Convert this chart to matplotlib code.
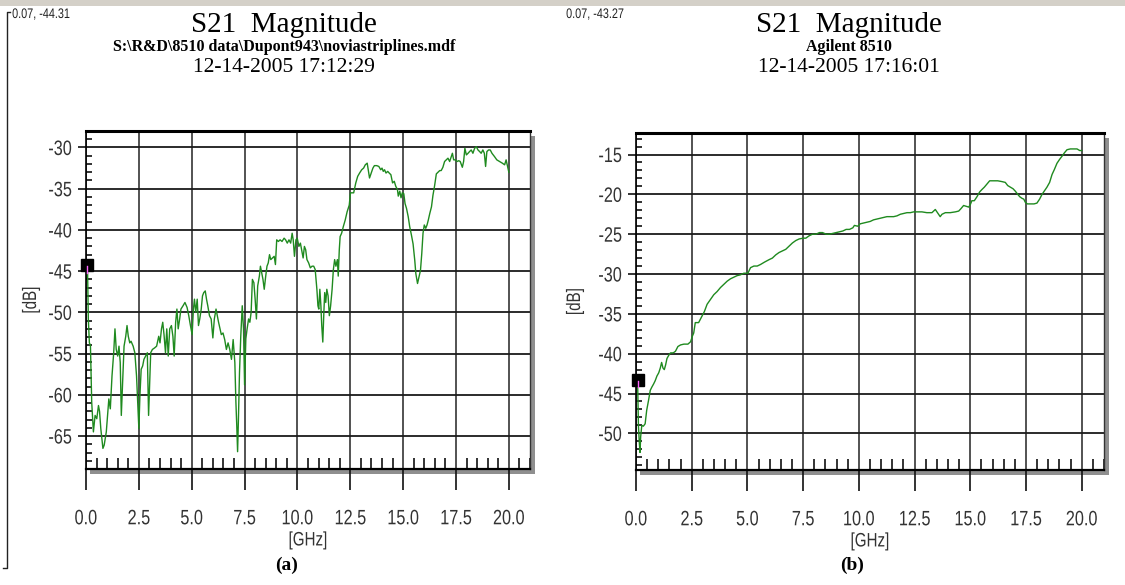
import matplotlib
matplotlib.use("Agg")
import matplotlib.pyplot as plt
from matplotlib.patches import Rectangle
from matplotlib.lines import Line2D
from matplotlib.ticker import MultipleLocator, FormatStrFormatter
from matplotlib.patheffects import AbstractPathEffect
from matplotlib.transforms import Affine2D
from matplotlib import font_manager as fm

# ---------------- data ----------------
freq_a = [0.07, 0.11, 0.16, 0.21, 0.27, 0.35, 0.43, 0.51, 0.59, 0.64, 0.70, 0.80, 0.86, 0.96,
          1.02, 1.08, 1.15, 1.23, 1.31, 1.37, 1.43, 1.50, 1.56, 1.62, 1.67, 1.74, 1.80, 1.88,
          1.94, 2.00, 2.07, 2.13, 2.23, 2.31, 2.39, 2.45, 2.50, 2.55, 2.61, 2.68, 2.74, 2.82,
          2.90, 2.96, 3.01, 3.06, 3.14, 3.25, 3.34, 3.44, 3.50, 3.57, 3.63, 3.69, 3.76, 3.82,
          3.89, 3.96, 4.04, 4.11, 4.17, 4.24, 4.30, 4.36, 4.43, 4.49, 4.59, 4.68, 4.78, 4.86,
          4.94, 5.02, 5.08, 5.13, 5.19, 5.26, 5.32, 5.38, 5.45, 5.51, 5.57, 5.64, 5.70, 5.76,
          5.84, 5.92, 6.00, 6.07, 6.15, 6.21, 6.27, 6.34, 6.40, 6.48, 6.56, 6.64, 6.72, 6.80,
          6.88, 6.96, 7.04, 7.09, 7.13, 7.17, 7.21, 7.26, 7.32, 7.39, 7.45, 7.50, 7.56, 7.62,
          7.69, 7.75, 7.81, 7.87, 7.94, 8.00, 8.06, 8.12, 8.20, 8.25, 8.31, 8.37, 8.43, 8.50,
          8.56, 8.62, 8.68, 8.74, 8.82, 8.90, 8.96, 9.02, 9.10, 9.18, 9.27, 9.37, 9.44, 9.52,
          9.60, 9.68, 9.75, 9.80, 9.86, 9.93, 9.99, 10.07, 10.14, 10.20, 10.27, 10.33, 10.39,
          10.45, 10.53, 10.61, 10.69, 10.77, 10.84, 10.92, 10.97, 11.01, 11.06, 11.11, 11.15,
          11.20, 11.25, 11.29, 11.34, 11.39, 11.45, 11.51, 11.57, 11.64, 11.70, 11.76, 11.82,
          11.89, 11.93, 11.98, 12.02, 12.09, 12.17, 12.26, 12.35, 12.45, 12.51, 12.57, 12.66,
          12.76, 12.85, 12.94, 13.04, 13.13, 13.21, 13.30, 13.35, 13.41, 13.49, 13.57, 13.64,
          13.75, 13.85, 13.94, 14.00, 14.06, 14.12, 14.19, 14.27, 14.34, 14.42, 14.50, 14.58,
          14.65, 14.73, 14.77, 14.84, 14.90, 14.96, 15.03, 15.09, 15.16, 15.24, 15.31, 15.39,
          15.47, 15.55, 15.60, 15.68, 15.75, 15.82, 15.88, 15.94, 16.00, 16.07, 16.13, 16.19,
          16.26, 16.34, 16.41, 16.49, 16.57, 16.65, 16.73, 16.80, 16.88, 16.96, 17.04, 17.12,
          17.20, 17.25, 17.33, 17.39, 17.47, 17.55, 17.63, 17.70, 17.80, 17.86, 17.92, 17.99,
          18.07, 18.14, 18.22, 18.30, 18.38, 18.46, 18.54, 18.62, 18.69, 18.77, 18.84, 18.90,
          18.96, 19.04, 19.12, 19.20, 19.32, 19.43, 19.56, 19.69, 19.80, 19.87, 19.94, 20.00]
s21_a = [-44.3, -50.8, -53.7, -54.0, -60.9, -64.5, -62.5, -62.9, -61.3, -62.0, -64.1, -66.5, -66.1, -64.5,
         -62.5, -60.5, -61.7, -57.7, -54.9, -52.0, -54.5, -55.3, -54.1, -56.1, -62.5, -58.1, -54.1, -52.9,
         -51.6, -52.9, -53.7, -53.5, -54.1, -54.9, -57.7, -61.3, -64.1, -60.1, -56.9, -56.5, -55.7, -55.3,
         -54.9, -62.5, -58.5, -54.9, -54.5, -54.3, -54.1, -52.9, -53.7, -52.0, -51.2, -52.7, -54.9, -52.0,
         -55.3, -52.0, -51.6, -52.9, -55.3, -51.2, -49.6, -52.0, -50.8, -49.6, -49.2, -48.8, -49.4, -50.4,
         -51.6, -52.7, -49.6, -48.4, -50.0, -48.4, -51.6, -50.8, -49.6, -48.0, -47.6, -47.4, -48.4, -49.2,
         -50.4, -50.8, -53.1, -50.8, -49.6, -50.4, -51.2, -52.0, -52.7, -52.5, -53.3, -54.5, -53.7, -54.5,
         -55.7, -53.3, -56.1, -60.9, -63.7, -66.9, -62.9, -57.3, -52.9, -49.2, -52.0, -58.8, -53.2, -52.0,
         -50.8, -51.2, -50.0, -46.0, -46.4, -48.4, -50.8, -46.8, -45.6, -44.4, -45.2, -46.0, -47.2, -45.6,
         -44.4, -44.0, -43.0, -43.6, -43.4, -43.2, -44.2, -41.2, -41.4, -41.2, -41.4, -41.0, -41.2, -41.6,
         -41.2, -41.6, -40.4, -41.2, -43.2, -41.2, -41.0, -42.0, -41.6, -42.4, -43.4, -42.0, -42.4,
         -43.6, -44.0, -44.6, -44.4, -44.4, -44.8, -47.2, -49.2, -49.6, -47.2, -49.2, -51.6,
         -53.6, -50.0, -47.6, -48.8, -47.2, -48.0, -50.4, -49.2, -47.2, -44.8, -43.6, -44.4,
         -43.6, -45.6, -42.4, -40.8, -40.4, -39.6, -38.8, -37.8, -37.0, -35.5, -35.5, -35.5,
         -34.3, -33.5, -33.1, -32.7, -32.5, -32.1, -31.9, -32.7, -33.7, -33.1, -32.5, -32.2,
         -32.2, -32.3, -32.7, -32.5, -32.9, -32.7, -33.1, -32.9, -33.1, -33.3, -34.3, -34.1,
         -34.7, -35.1, -35.9, -35.3, -36.1, -35.5, -35.6, -36.8, -37.4, -38.4, -39.6, -40.6,
         -41.7, -43.7, -45.3, -46.5, -45.7, -44.9, -42.9, -40.4, -39.4, -39.8, -39.4, -38.8,
         -38.0, -37.2, -35.8, -34.6, -33.2, -33.0, -32.8, -32.8, -32.4, -31.7, -31.5, -31.3,
         -31.7, -31.3, -30.7, -31.5, -31.5, -31.7, -31.6, -31.7, -32.4, -31.7, -30.1, -30.9,
         -30.7, -30.5, -30.3, -30.7, -30.1, -29.9, -30.3, -30.5, -30.7, -30.3, -30.7, -32.3,
         -30.5, -30.3, -30.3, -30.7, -31.1, -31.5, -31.7, -31.9, -32.1, -31.5, -32.3, -33.0]

freq_b = [0.07, 0.11, 0.15, 0.18, 0.21, 0.26, 0.33, 0.41, 0.48, 0.56, 0.64, 0.71, 0.79, 0.86,
          0.94, 1.02, 1.09, 1.15, 1.21, 1.27, 1.33, 1.39, 1.47, 1.55, 1.67, 1.77, 1.88, 2.00,
          2.15, 2.33, 2.45, 2.53, 2.59, 2.66, 2.81, 2.96, 3.07, 3.19, 3.34, 3.49, 3.64, 3.79,
          3.94, 4.09, 4.24, 4.39, 4.54, 4.69, 4.84, 5.02, 5.14, 5.29, 5.44, 5.59, 5.77, 5.97,
          6.12, 6.27, 6.42, 6.57, 6.72, 6.87, 7.02, 7.17, 7.32, 7.50, 7.62, 7.77, 7.92, 8.08,
          8.23, 8.37, 8.53, 8.68, 8.83, 8.98, 9.13, 9.28, 9.43, 9.58, 9.73, 9.80, 9.95, 10.06,
          10.21, 10.36, 10.51, 10.66, 10.81, 10.96, 11.11, 11.26, 11.41, 11.56, 11.71, 11.86,
          12.01, 12.16, 12.31, 12.46, 12.61, 12.83, 13.05, 13.28, 13.43, 13.53, 13.65, 13.73,
          13.88, 14.10, 14.33, 14.48, 14.58, 14.70, 14.82, 14.93, 15.00, 15.07, 15.18, 15.30,
          15.42, 15.52, 15.63, 15.75, 15.87, 16.05, 16.23, 16.42, 16.57, 16.68, 16.80, 16.92,
          17.02, 17.13, 17.22, 17.32, 17.40, 17.47, 17.56, 17.71, 17.86, 17.99, 18.11, 18.22,
          18.32, 18.44, 18.56, 18.67, 18.77, 18.89, 19.01, 19.12, 19.22, 19.34, 19.49, 19.64,
          19.79, 19.91, 20.00]
s21_b = [-43.3, -49.1, -51.2, -52.4, -50.4, -49.0, -49.1, -48.8, -47.1, -45.9, -44.6, -44.2, -43.8, -43.4,
         -42.8, -42.4, -41.8, -41.1, -41.8, -42.0, -41.4, -40.6, -40.2, -39.9, -39.9, -39.7, -39.1, -38.9,
         -38.8, -38.8, -38.5, -37.8, -37.4, -36.1, -36.1, -35.3, -34.7, -33.8, -33.2, -32.6, -32.2, -31.7,
         -31.3, -30.9, -30.6, -30.4, -30.2, -30.1, -29.9, -29.9, -29.2, -29.0, -29.0, -28.8, -28.5, -28.2,
         -28.0, -27.6, -27.3, -27.1, -26.9, -26.5, -26.1, -25.8, -25.6, -25.5, -25.5, -25.2, -25.0, -25.0,
         -24.8, -24.8, -25.0, -25.0, -24.9, -24.8, -24.7, -24.6, -24.4, -24.4, -24.2, -23.9, -24.0, -23.7,
         -23.6, -23.5, -23.4, -23.2, -23.1, -23.0, -22.9, -22.8, -22.8, -22.8, -22.7, -22.5,
         -22.4, -22.3, -22.3, -22.2, -22.2, -22.2, -22.3, -22.3, -21.9, -22.3, -22.8, -22.5,
         -22.3, -22.3, -22.2, -22.1, -21.8, -21.4, -21.5, -21.6, -21.3, -20.8, -20.8, -20.3,
         -19.7, -19.4, -19.1, -18.7, -18.3, -18.3, -18.3, -18.4, -18.5, -18.9, -19.1, -19.3,
         -19.6, -20.0, -20.3, -20.5, -20.6, -21.0, -21.2, -21.2, -21.2, -21.1, -20.6, -20.0,
         -19.6, -19.1, -18.5, -17.5, -16.9, -16.1, -15.6, -15.2, -14.8, -14.4, -14.3, -14.3,
         -14.3, -14.5, -14.5]

marker_a = (0.07, -44.31)
marker_b = (0.07, -43.27)
x_ticks = [0.0, 2.5, 5.0, 7.5, 10.0, 12.5, 15.0, 17.5, 20.0]
y_ticks_a = [-65, -60, -55, -50, -45, -40, -35, -30]
y_ticks_b = [-50, -45, -40, -35, -30, -25, -20, -15]

titles = ["S21  Magnitude", "S21  Magnitude"]
subtitles = ["S:\\R&D\\8510 data\\Dupont943\\noviastriplines.mdf", "Agilent 8510"]
dates = ["12-14-2005 17:12:29", "12-14-2005 17:16:01"]
corner_labels = ["0.07, -44.31", "0.07, -43.27"]
panel_labels = ["(a)", "(b)"]

# ---------------- fonts ----------------
names = {f.name for f in fm.fontManager.ttflist}
sans = 'Liberation Sans' if 'Liberation Sans' in names else 'DejaVu Sans'
serif = 'Liberation Serif' if 'Liberation Serif' in names else 'DejaVu Serif'


class Squeeze(AbstractPathEffect):
    """Horizontally condense glyphs (emulates a narrow font)."""

    def __init__(self, sx=0.8, anchor='center', vertical=False):
        super().__init__()
        self.sx = sx
        self.anchor = anchor
        self.vertical = vertical

    def draw_path(self, renderer, gc, tpath, affine, rgbFace=None):
        ext = affine.transform_path(tpath).get_extents()
        if self.vertical:
            cy = (ext.y0 + ext.y1) / 2
            extra = Affine2D().translate(0, -cy).scale(1, self.sx).translate(0, cy)
        else:
            if self.anchor == 'right':
                c = ext.x1
            elif self.anchor == 'left':
                c = ext.x0
            else:
                c = (ext.x0 + ext.x1) / 2
            extra = Affine2D().translate(-c, 0).scale(self.sx, 1).translate(c, 0)
        renderer.draw_path(gc, tpath, affine + extra, rgbFace)


SQ = 0.78
W, H = 1125, 585
fig = plt.figure(figsize=(W / 100, H / 100), dpi=100)
fig.patch.set_facecolor('white')


def fx(px):
    return px / W


def fy(py):
    return 1 - py / H


# top gray bar
fig.add_artist(Rectangle((0, fy(6)), 1, 6 / H, transform=fig.transFigure,
                         facecolor='#d4d0c8', edgecolor='none', zorder=-5))
# left bracket
fig.add_artist(Line2D([fx(10), fx(7), fx(7), fx(3)], [fy(12), fy(12), fy(568), fy(568)],
                      transform=fig.transFigure, color='#222222', lw=1.0))

panels = [
    dict(box=(86, 131, 530, 469), ylim=(-69, -28), yt=y_ticks_a, f=freq_a, s=s21_a,
         m=marker_a, cx=284, clx=12, ylab_px=40),
    dict(box=(636, 133, 1104, 470), ylim=(-54.6, -12.3), yt=y_ticks_b, f=freq_b, s=s21_b,
         m=marker_b, cx=849, clx=566, ylab_px=584),
]

green = '#1f8a1f'
for i, p in enumerate(panels):
    l, t, r, b = p['box']
    ax = fig.add_axes([fx(l), fy(b), (r - l) / W, (b - t) / H])
    # shadow
    fig.add_artist(Rectangle((fx(l + 4), fy(b + 5)), (r - l + 1) / W, (b - t) / H,
                             transform=fig.transFigure, facecolor='#8f8f8f',
                             edgecolor='none', zorder=-1))
    ax.set_zorder(1)
    ax.set_facecolor('white')
    ax.set_xlim(0, 21)
    ax.set_ylim(*p['ylim'])
    ax.set_xticks(x_ticks)
    ax.set_yticks(p['yt'])
    ax.xaxis.set_minor_locator(MultipleLocator(0.5))
    ax.yaxis.set_minor_locator(MultipleLocator(1))
    ax.xaxis.set_major_formatter(FormatStrFormatter('%.1f'))
    ax.yaxis.set_major_formatter(FormatStrFormatter('%d'))
    ax.grid(True, axis='x', which='major', color='#444444', lw=1.3)
    ax.grid(True, axis='y', which='major', color='#1a1a1a', lw=1.3)
    ax.set_axisbelow(True)
    ax.tick_params(axis='x', which='major', direction='out', length=15, width=1.2,
                   color='#111111', pad=14, labelsize=15, labelcolor='#333333')
    ax.tick_params(axis='x', which='minor', direction='in', length=8, width=1.2,
                   color='#111111')
    ax.tick_params(axis='y', which='major', direction='out', length=6, width=1.2,
                   color='#111111', pad=4, labelsize=15, labelcolor='#333333')
    ax.tick_params(axis='y', which='minor', direction='in', length=4, width=1.2,
                   color='#111111')
    for lab in ax.get_xticklabels():
        lab.set_fontfamily(sans)
        lab.set_path_effects([Squeeze(SQ, 'center')])
    for lab in ax.get_yticklabels():
        lab.set_fontfamily(sans)
        lab.set_path_effects([Squeeze(SQ, 'right')])
    ax.spines['top'].set_linewidth(2.2)
    ax.spines['top'].set_color('black')
    ax.spines['bottom'].set_linewidth(1.6)
    ax.spines['bottom'].set_color('black')
    ax.spines['left'].set_linewidth(1.2)
    ax.spines['right'].set_linewidth(1.0)
    ax.spines['right'].set_color('#333333')

    ax.plot(p['f'], p['s'], color=green, lw=1.0, zorder=3)
    ax.plot([p['m'][0]], [p['m'][1]], marker='s', color='black', ms=8, zorder=5,
            clip_on=False)
    ax.plot([p['m'][0], p['m'][0]], [p['m'][1] - 0.1, p['m'][1] - 0.9], color='#ff66ff',
            lw=1.0, zorder=6, clip_on=False)

    xl = ax.set_xlabel('[GHz]', fontsize=14, color='#333333', family=sans, labelpad=3)
    xl.set_path_effects([Squeeze(SQ, 'center')])
    yl = ax.set_ylabel('[dB]', fontsize=14, color='#333333', family=sans)
    yl.set_path_effects([Squeeze(SQ, vertical=True)])
    ax.yaxis.set_label_coords((p['ylab_px'] - l) / (r - l), 0.5)

    cx = p['cx']
    fig.text(fx(cx), fy(25), titles[i], ha='center', va='center', family=serif, fontsize=21)
    fig.text(fx(cx), fy(47), subtitles[i], ha='center', va='center', family=serif,
             fontsize=11.5, fontweight='bold')
    fig.text(fx(cx), fy(67), dates[i], ha='center', va='center', family=serif, fontsize=15.5)
    ct = fig.text(fx(p['clx']), fy(14), corner_labels[i], ha='left', va='center', family=sans,
                  fontsize=10, color='#222222')
    ct.set_path_effects([Squeeze(SQ, 'left')])
    fig.text(fx(cx + 3), fy(565), panel_labels[i], ha='center', va='center', family=serif,
             fontsize=14, fontweight='bold')

fig.savefig('out.png', dpi=100)
